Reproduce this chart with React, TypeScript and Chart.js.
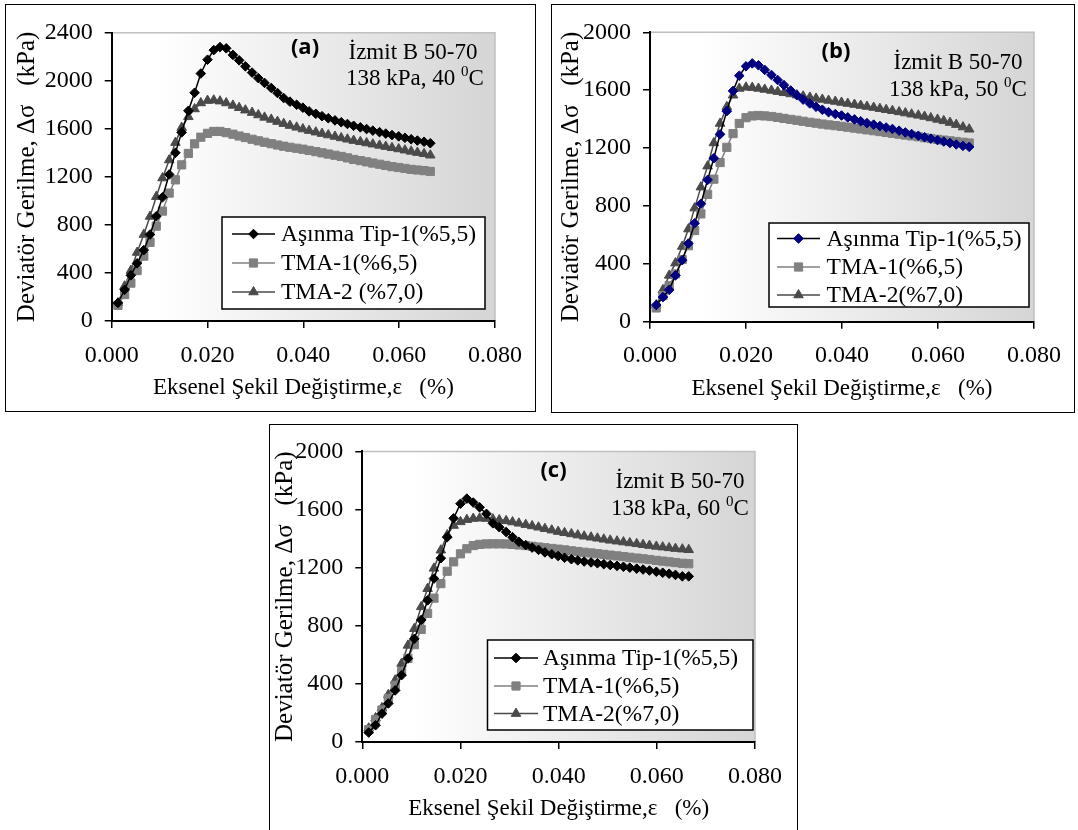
import React, { useEffect, useRef } from "react";
import { Chart, registerables } from "chart.js";
import { drawPoint } from "chart.js/helpers";

Chart.register(...registerables);

// ---------- DATA ----------
const strain = [
  0.0013, 0.0027, 0.004, 0.0053, 0.0067, 0.008, 0.0093, 0.0106, 0.012, 0.0133,
  0.0146, 0.016, 0.0173, 0.0186, 0.02, 0.0213, 0.0226, 0.0239, 0.0253, 0.0266,
  0.0279, 0.0293, 0.0306, 0.0319, 0.0333, 0.0346, 0.0359, 0.0372, 0.0386, 0.0399,
  0.0412, 0.0426, 0.0439, 0.0452, 0.0466, 0.0479, 0.0492, 0.0505, 0.0519, 0.0532,
  0.0545, 0.0559, 0.0572, 0.0585, 0.0599, 0.0612, 0.0625, 0.0638, 0.0652, 0.0665,
];

const aAsinma = [150, 260, 380, 480, 590, 720, 872, 1030, 1220, 1400, 1570, 1750, 1900, 2060, 2175, 2255, 2280, 2270, 2215, 2170, 2120, 2068, 2022, 1982, 1940, 1898, 1856, 1826, 1800, 1776, 1745, 1725, 1705, 1688, 1670, 1655, 1640, 1625, 1612, 1598, 1585, 1572, 1560, 1548, 1537, 1525, 1513, 1502, 1492, 1480];
const aTma1 = [130, 220, 315, 420, 540, 655, 790, 915, 1065, 1175, 1300, 1395, 1475, 1530, 1562, 1578, 1578, 1568, 1555, 1540, 1527, 1513, 1500, 1488, 1476, 1465, 1455, 1446, 1438, 1430, 1420, 1410, 1400, 1390, 1380, 1370, 1358, 1345, 1335, 1325, 1315, 1305, 1295, 1285, 1278, 1270, 1262, 1257, 1252, 1245];
const aTma2 = [150, 290, 420, 570, 720, 870, 1035, 1190, 1340, 1485, 1610, 1700, 1765, 1815, 1835, 1838, 1830, 1815, 1795, 1775, 1755, 1735, 1715, 1695, 1678, 1660, 1643, 1627, 1612, 1598, 1585, 1572, 1560, 1548, 1536, 1524, 1513, 1502, 1492, 1482, 1472, 1462, 1452, 1442, 1432, 1422, 1412, 1402, 1392, 1380];

const bAsinma = [115, 170, 220, 320, 425, 540, 680, 815, 980, 1130, 1295, 1455, 1595, 1700, 1765, 1785, 1772, 1740, 1705, 1670, 1635, 1598, 1565, 1535, 1508, 1485, 1465, 1448, 1435, 1425, 1412, 1398, 1385, 1372, 1362, 1352, 1342, 1332, 1320, 1308, 1297, 1285, 1275, 1265, 1255, 1245, 1235, 1225, 1215, 1208];
const bTma1 = [95, 180, 250, 330, 430, 525, 630, 745, 880, 985, 1100, 1205, 1300, 1370, 1410, 1422, 1425, 1422, 1418, 1412, 1405, 1398, 1392, 1385, 1378, 1372, 1366, 1360, 1355, 1350, 1344, 1338, 1332, 1326, 1320, 1314, 1308, 1302, 1296, 1290, 1284, 1278, 1272, 1266, 1260, 1255, 1250, 1245, 1240, 1235];
const bTma2 = [115, 220, 320, 405, 520, 640, 785, 930, 1075, 1235, 1370, 1485, 1565, 1612, 1620, 1618, 1612, 1605, 1598, 1590, 1582, 1574, 1566, 1558, 1550, 1543, 1536, 1529, 1522, 1515, 1508, 1501, 1494, 1487, 1480, 1472, 1465, 1458, 1450, 1442, 1434, 1426, 1418, 1408, 1398, 1388, 1376, 1362, 1345, 1330];

const cAsinma = [65, 115, 195, 265, 355, 460, 575, 710, 840, 975, 1125, 1265, 1410, 1540, 1640, 1675, 1648, 1615, 1570, 1505, 1478, 1445, 1410, 1378, 1355, 1338, 1322, 1305, 1292, 1280, 1268, 1258, 1250, 1242, 1236, 1230, 1224, 1218, 1212, 1206, 1200, 1193, 1187, 1180, 1172, 1165, 1158, 1150, 1140, 1140];
const cTma1 = [85, 155, 220, 300, 390, 485, 575, 670, 775, 885, 990, 1090, 1175, 1240, 1295, 1330, 1352, 1360, 1363, 1364, 1364, 1363, 1360, 1356, 1352, 1347, 1342, 1337, 1332, 1327, 1322, 1316, 1311, 1306, 1301, 1296, 1291, 1286, 1281, 1276, 1271, 1266, 1261, 1256, 1250, 1245, 1240, 1235, 1230, 1227];
const cTma2 = [95, 165, 235, 325, 425, 540, 665, 780, 930, 1055, 1195, 1320, 1425, 1490, 1515, 1530, 1538, 1540, 1538, 1534, 1528, 1522, 1514, 1505, 1496, 1487, 1478, 1468, 1458, 1448, 1440, 1432, 1424, 1416, 1409, 1402, 1395, 1388, 1382, 1376, 1370, 1364, 1358, 1352, 1346, 1341, 1336, 1331, 1327, 1323];

const labelsA = ["Aşınma Tip-1(%5,5)", "TMA-1(%6,5)", "TMA-2 (%7,0)"];
const labelsBC = ["Aşınma Tip-1(%5,5)", "TMA-1(%6,5)", "TMA-2(%7,0)"];

const xTickValues = [0, 0.02, 0.04, 0.06, 0.08];
const yTickValuesA = [0, 400, 800, 1200, 1600, 2000, 2400];
const yTickValuesBC = [0, 400, 800, 1200, 1600, 2000];

const xTitle = "Eksenel Şekil Değiştirme,ε   (%)";
const yTitle = "Deviatör Gerilme, Δσ   (kPa)";
const siteText = "İzmit B 50-70";

// ---------- STYLE ----------
const SERIF = "'Liberation Serif', 'Times New Roman', serif";
const TICK_SIZE = 24;
const XTITLE_SIZE = 23;
const YTITLE_SIZE = 25;
const LEGEND_SIZE = 23.5;
const NOTE_SIZE = 23;

type Rect = { x: number; y: number; w: number; h: number };
type Spec = {
  box: Rect;
  plot: { l: number; r: number; t: number; b: number };
  yMax: number;
  yTicks: number[];
  series: number[][];
  labels: string[];
  asinmaFill: string;
  yTitleX: number;
  legend: Rect;
  legendRows: number[];
  legendLine: [number, number];
  legendTextX: number;
  tag: string;
  tagPos: [number, number];
  sitePos: [number, number];
  condPos: [number, number];
  temp: string;
};

const specs: Spec[] = [
  {
    box: { x: 5, y: 4, w: 531, h: 408 },
    plot: { l: 111.7, r: 498.2, t: 32.7, b: 321 },
    yMax: 2400,
    yTicks: yTickValuesA,
    series: [aAsinma, aTma1, aTma2],
    labels: labelsA,
    asinmaFill: "#000000",
    yTitleX: 27,
    legend: { x: 222, y: 217, w: 263, h: 92 },
    legendRows: [17, 46, 75],
    legendLine: [10, 53],
    legendTextX: 59,
    tag: "(a)",
    tagPos: [305, 48],
    sitePos: [413, 53],
    condPos: [415, 79],
    temp: "40",
  },
  {
    box: { x: 551, y: 4, w: 524, h: 409 },
    plot: { l: 650, r: 1040, t: 32.3, b: 321.7 },
    yMax: 2000,
    yTicks: yTickValuesBC,
    series: [bAsinma, bTma1, bTma2],
    labels: labelsBC,
    asinmaFill: "#000080",
    yTitleX: 571,
    legend: { x: 769, y: 223, w: 260, h: 84 },
    legendRows: [15.5, 44, 72],
    legendLine: [8, 51],
    legendTextX: 57.6,
    tag: "(b)",
    tagPos: [836, 52],
    sitePos: [958, 63],
    condPos: [958, 90],
    temp: "50",
  },
  {
    box: { x: 269, y: 424, w: 529, h: 420 },
    plot: { l: 362.3, r: 755, t: 451.3, b: 742 },
    yMax: 2000,
    yTicks: yTickValuesBC,
    series: [cAsinma, cTma1, cTma2],
    labels: labelsBC,
    asinmaFill: "#000000",
    yTitleX: 285,
    legend: { x: 487.5, y: 640, w: 265.5, h: 90 },
    legendRows: [18, 46, 73.6],
    legendLine: [6.5, 50.5],
    legendTextX: 55.5,
    tag: "(c)",
    tagPos: [553.5, 471],
    sitePos: [680, 482],
    condPos: [680, 509],
    temp: "60",
  },
];

const lineColors = ["#000000", "#808080", "#4a4a4a"];
const pointStyles = ["rectRot", "rect", "triangle"];
const pointRadii = [4.8, 5.8, 5.5];

function buildConfig(s: Spec): any {
  const ox = s.box.x + 1;
  const oy = s.box.y + 1;
  const cw = s.box.w - 2;
  const ch = s.box.h - 2;
  const l = s.plot.l - ox;
  const r = s.plot.r - ox;
  const t = s.plot.t - oy;
  const b = s.plot.b - oy;
  const xTitlePad = ch - b - 67 - XTITLE_SIZE * 0.6;
  const yTitlePad = s.yTitleX - ox - YTITLE_SIZE * 0.6;

  const datasets = s.series.map((vals, i) => {
    const fill = i === 0 ? s.asinmaFill : lineColors[i];
    return {
      label: s.labels[i],
      data: strain.map((x, k) => ({ x, y: vals[k] })),
      showLine: true,
      borderColor: lineColors[i],
      borderWidth: 1.5,
      pointStyle: pointStyles[i],
      pointRadius: pointRadii[i],
      pointBackgroundColor: fill,
      pointBorderColor: fill,
      pointBorderWidth: 1,
      tension: 0,
    };
  });

  const decor = {
    id: "decor",
    beforeDraw(chart: any) {
      const { ctx, chartArea: ca } = chart;
      ctx.save();
      const g = ctx.createLinearGradient(ca.left, 0, ca.right, 0);
      g.addColorStop(0, "#ffffff");
      g.addColorStop(0.12, "#ffffff");
      g.addColorStop(1, "#d5d5d5");
      ctx.fillStyle = g;
      ctx.fillRect(ca.left, ca.top, ca.right - ca.left, ca.bottom - ca.top);
      ctx.strokeStyle = "#c0c0c0";
      ctx.lineWidth = 1.5;
      ctx.beginPath();
      ctx.moveTo(ca.left, ca.top);
      ctx.lineTo(ca.right, ca.top);
      ctx.lineTo(ca.right, ca.bottom);
      ctx.stroke();
      ctx.restore();
    },
    afterDraw(chart: any) {
      const { ctx } = chart;
      ctx.save();
      // notes
      ctx.fillStyle = "#000";
      ctx.textBaseline = "middle";
      ctx.textAlign = "center";
      ctx.font = `bold 22px 'Open Sans', 'Liberation Sans', sans-serif`;
      ctx.fillText(s.tag, s.tagPos[0] - ox, s.tagPos[1] - oy);
      ctx.font = `${NOTE_SIZE}px ${SERIF}`;
      ctx.fillText(siteText, s.sitePos[0] - ox, s.sitePos[1] - oy);
      const main = `138 kPa, ${s.temp} `;
      const sup = "0";
      const tail = "C";
      ctx.font = `${NOTE_SIZE}px ${SERIF}`;
      const wMain = ctx.measureText(main).width;
      const wTail = ctx.measureText(tail).width;
      ctx.font = `15px ${SERIF}`;
      const wSup = ctx.measureText(sup).width;
      const total = wMain + wSup + wTail;
      let x = s.condPos[0] - ox - total / 2;
      const y = s.condPos[1] - oy;
      ctx.textAlign = "left";
      ctx.font = `${NOTE_SIZE}px ${SERIF}`;
      ctx.fillText(main, x, y);
      x += wMain;
      ctx.font = `15px ${SERIF}`;
      ctx.fillText(sup, x, y - 7);
      x += wSup;
      ctx.font = `${NOTE_SIZE}px ${SERIF}`;
      ctx.fillText(tail, x, y);

      // legend
      const lx = s.legend.x - ox;
      const ly = s.legend.y - oy;
      ctx.fillStyle = "#ffffff";
      ctx.fillRect(lx, ly, s.legend.w, s.legend.h);
      ctx.strokeStyle = "#000";
      ctx.lineWidth = 1.5;
      ctx.strokeRect(lx, ly, s.legend.w, s.legend.h);
      chart.data.datasets.forEach((ds: any, i: number) => {
        const ry = ly + s.legendRows[i];
        const x0 = lx + s.legendLine[0];
        const x1 = lx + s.legendLine[1];
        ctx.strokeStyle = ds.borderColor;
        ctx.lineWidth = 1.5;
        ctx.beginPath();
        ctx.moveTo(x0, ry);
        ctx.lineTo(x1, ry);
        ctx.stroke();
        ctx.fillStyle = ds.pointBackgroundColor;
        ctx.strokeStyle = ds.pointBorderColor;
        ctx.lineWidth = 1;
        drawPoint(ctx, { pointStyle: ds.pointStyle, rotation: 0, radius: ds.pointRadius, borderWidth: 1 }, (x0 + x1) / 2, ry);
        ctx.fillStyle = "#000";
        ctx.font = `${LEGEND_SIZE}px ${SERIF}`;
        ctx.textAlign = "left";
        ctx.textBaseline = "middle";
        ctx.fillText(ds.label, lx + s.legendTextX, ry + 1);
      });
      ctx.restore();
    },
  };

  return {
    type: "scatter",
    data: { datasets },
    plugins: [decor],
    options: {
      animation: false,
      responsive: false,
      events: [],
      layout: { padding: { left: 0, top: t, right: cw - r, bottom: 0 } },
      plugins: { legend: { display: false }, tooltip: { enabled: false } },
      scales: {
        x: {
          type: "linear",
          min: 0,
          max: 0.08,
          afterBuildTicks: (sc: any) => {
            sc.ticks = xTickValues.map((v) => ({ value: v }));
          },
          afterFit: (sc: any) => {
            sc.height = ch - b;
          },
          ticks: {
            color: "#000",
            font: { family: SERIF, size: TICK_SIZE },
            padding: 13,
            maxRotation: 0,
            autoSkip: false,
            callback: (v: any) => Number(v).toFixed(3),
          },
          grid: { drawOnChartArea: false, drawTicks: true, tickLength: 7, color: "#000", lineWidth: 1.5 },
          border: { display: true, color: "#000", width: 2 },
          title: {
            display: true,
            text: xTitle,
            color: "#000",
            font: { family: SERIF, size: XTITLE_SIZE },
            padding: { top: 0, bottom: xTitlePad },
          },
        },
        y: {
          type: "linear",
          min: 0,
          max: s.yMax,
          afterBuildTicks: (sc: any) => {
            sc.ticks = s.yTicks.map((v) => ({ value: v }));
          },
          afterFit: (sc: any) => {
            sc.width = l;
          },
          ticks: {
            color: "#000",
            font: { family: SERIF, size: TICK_SIZE },
            padding: 12,
            autoSkip: false,
            callback: (v: any) => String(v),
          },
          grid: { drawOnChartArea: false, drawTicks: true, tickLength: 7, color: "#000", lineWidth: 1.5 },
          border: { display: true, color: "#000", width: 2 },
          title: {
            display: true,
            text: yTitle,
            color: "#000",
            font: { family: SERIF, size: YTITLE_SIZE },
            padding: { top: yTitlePad, bottom: 0 },
          },
        },
      },
    },
  };
}

function Panel({ spec }: { spec: Spec }) {
  const ref = useRef<HTMLCanvasElement>(null);
  useEffect(() => {
    if (!ref.current) return;
    const chart = new Chart(ref.current, buildConfig(spec));
    return () => chart.destroy();
  }, [spec]);
  const { box } = spec;
  return (
    <div
      style={{
        position: "absolute",
        left: box.x,
        top: box.y,
        width: box.w,
        height: box.h,
        border: "1px solid #000",
        boxSizing: "border-box",
        background: "#fff",
      }}
    >
      <canvas
        ref={ref}
        width={box.w - 2}
        height={box.h - 2}
        style={{ display: "block", width: box.w - 2, height: box.h - 2 }}
      />
    </div>
  );
}

export default function App() {
  return (
    <div
      style={{
        position: "fixed",
        left: 0,
        top: 0,
        width: 1078,
        height: 830,
        overflow: "hidden",
        background: "#fff",
      }}
    >
      {specs.map((s, i) => (
        <Panel key={i} spec={s} />
      ))}
    </div>
  );
}
